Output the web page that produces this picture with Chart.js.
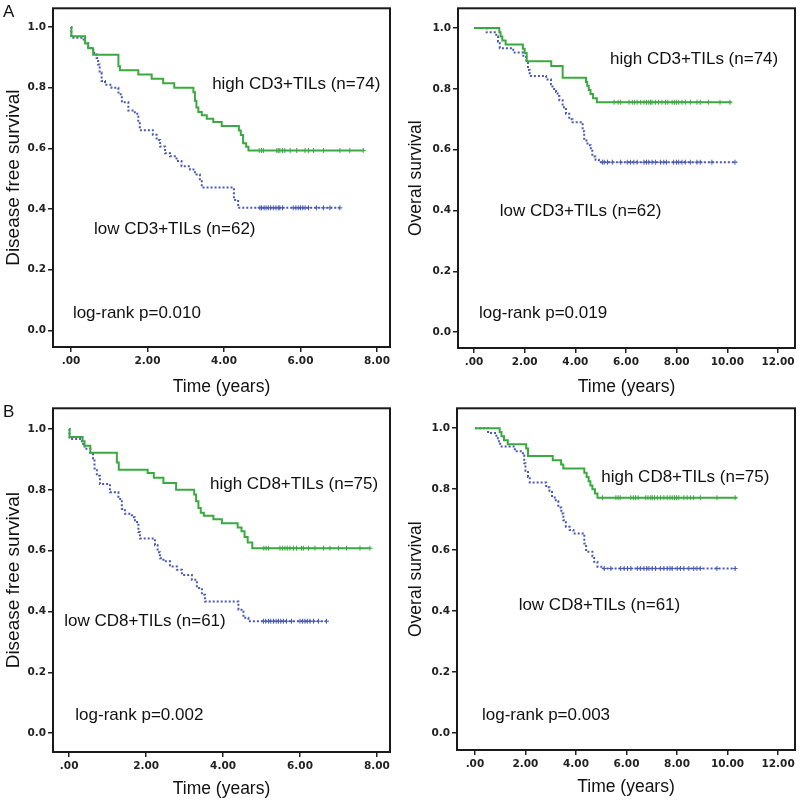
<!DOCTYPE html>
<html>
<head>
<meta charset="utf-8">
<script src="https://cdn.jsdelivr.net/npm/chart.js@4.4.0/dist/chart.umd.min.js"></script>
<style>
  body { margin: 0; background: #fff; width: 800px; height: 805px; position: relative; overflow: hidden; }
  canvas { position: absolute; }
</style>
</head>
<body>
<canvas id="pA1" width="400" height="400" style="left:0;top:0"></canvas>
<canvas id="pA2" width="400" height="400" style="left:400px;top:0"></canvas>
<canvas id="pB1" width="400" height="405" style="left:0;top:400px"></canvas>
<canvas id="pB2" width="400" height="405" style="left:400px;top:400px"></canvas>
<script>
// ---- axis ticks ----
const xTicksShort = [0, 2, 4, 6, 8];
const xLabelsShort = ['.00', '2.00', '4.00', '6.00', '8.00'];
const xTicksLong = [0, 2, 4, 6, 8, 10, 12];
const xLabelsLong = ['.00', '2.00', '4.00', '6.00', '8.00', '10.00', '12.00'];
const yTicks = [0, 0.2, 0.4, 0.6, 0.8, 1.0];
const yLabels = ['0.0', '0.2', '0.4', '0.6', '0.8', '1.0'];

// ---- A: CD3, disease free survival ----
const a1HighT = [0, 0.01, 0.37, 0.45, 0.58, 1.24, 1.28, 1.76, 2.11, 2.41, 2.7, 3.2, 3.24, 3.28, 3.33, 3.42, 3.55, 3.72, 3.94, 4.39, 4.44, 4.5, 4.58, 4.64];
const a1HighS = [1, 0.97, 0.946, 0.93, 0.909, 0.871, 0.858, 0.844, 0.83, 0.815, 0.80, 0.785, 0.757, 0.735, 0.72, 0.709, 0.698, 0.687, 0.674, 0.659, 0.644, 0.617, 0.605, 0.593];
const a1HighCens = [4.92, 4.98, 5.03, 5.38, 5.42, 5.46, 5.53, 5.59, 5.73, 5.90, 6.12, 6.21, 6.34, 6.60, 7.03, 7.29, 7.64];
const a1HighEnd = 7.66;
const a1LowT = [0, 0.01, 0.33, 0.37, 0.45, 0.58, 0.67, 0.71, 0.75, 0.8, 0.89, 1.06, 1.24, 1.3, 1.33, 1.5, 1.67, 1.76, 1.8, 2.14, 2.24, 2.33, 2.46, 2.59, 2.76, 2.89, 3.11, 3.24, 3.37, 3.42, 4.26, 4.37];
const a1LowS = [1, 0.965, 0.955, 0.947, 0.931, 0.915, 0.898, 0.877, 0.85, 0.822, 0.81, 0.80, 0.784, 0.774, 0.752, 0.725, 0.714, 0.687, 0.66, 0.645, 0.628, 0.606, 0.584, 0.574, 0.558, 0.541, 0.53, 0.514, 0.498, 0.471, 0.43, 0.404];
const a1LowCens = [4.94, 4.98, 5.05, 5.10, 5.16, 5.22, 5.29, 5.36, 5.42, 5.46, 5.53, 5.81, 5.88, 5.94, 6.0, 6.06, 6.12, 6.21, 6.42, 6.60, 6.77, 7.03];
const a1LowEnd = 7.03;

// ---- A: CD3, overall survival ----
const a2HighT = [0, 1.0, 1.05, 1.12, 1.25, 1.93, 2.0, 2.08, 3.05, 3.5, 4.42, 4.47, 4.53, 4.6, 4.7, 4.85];
const a2HighS = [1, 0.986, 0.972, 0.959, 0.946, 0.932, 0.918, 0.891, 0.875, 0.837, 0.823, 0.81, 0.796, 0.783, 0.769, 0.756];
const a2HighCens = [5.53, 5.69, 5.79, 6.12, 6.25, 6.34, 6.44, 6.58, 6.71, 6.81, 6.90, 6.97, 7.03, 7.16, 7.29, 7.42, 7.56, 7.65, 7.82, 7.91, 7.99, 8.08, 8.21, 8.34, 8.54, 8.8, 8.93, 9.25, 9.71, 10.1];
const a2HighEnd = 10.17;
const a2LowT = [0, 0.5, 0.88, 0.95, 1.02, 1.55, 1.95, 2.07, 2.13, 2.2, 2.85, 3.04, 3.1, 3.24, 3.3, 3.37, 3.5, 3.63, 3.76, 3.89, 4.29, 4.35, 4.48, 4.61, 4.67, 4.8, 4.93];
const a2LowS = [1, 0.986, 0.972, 0.955, 0.934, 0.92, 0.905, 0.886, 0.862, 0.842, 0.831, 0.815, 0.80, 0.79, 0.777, 0.763, 0.74, 0.718, 0.70, 0.69, 0.661, 0.63, 0.615, 0.60, 0.578, 0.567, 0.559];
const a2LowCens = [5.07, 5.14, 5.27, 5.46, 5.79, 6.05, 6.18, 6.31, 6.44, 6.71, 6.81, 6.9, 7.03, 7.16, 7.36, 7.49, 7.6, 7.88, 7.99, 8.08, 8.21, 8.34, 8.54, 8.8, 8.93, 9.39, 10.3];
const a2LowEnd = 10.36;

// ---- B: CD8, disease free survival ----
const b1HighT = [0, 0.01, 0.35, 0.4, 0.55, 1.24, 1.29, 2.04, 2.2, 2.45, 2.78, 3.25, 3.3, 3.36, 3.42, 3.5, 3.75, 3.97, 4.38, 4.48, 4.56, 4.64, 4.76];
const b1HighS = [1, 0.974, 0.96, 0.945, 0.922, 0.89, 0.866, 0.855, 0.84, 0.822, 0.80, 0.785, 0.762, 0.74, 0.725, 0.715, 0.703, 0.69, 0.676, 0.664, 0.645, 0.627, 0.608];
const b1HighCens = [5.06, 5.12, 5.18, 5.48, 5.55, 5.61, 5.67, 5.74, 5.83, 5.91, 6.04, 6.09, 6.22, 6.39, 6.61, 6.78, 7.0, 7.21, 7.56, 7.82];
const b1HighEnd = 7.82;
const b1LowT = [0, 0.01, 0.33, 0.4, 0.55, 0.62, 0.66, 0.72, 0.8, 1.06, 1.28, 1.37, 1.45, 1.63, 1.71, 1.8, 1.84, 2.23, 2.3, 2.36, 2.45, 2.62, 2.8, 2.93, 3.19, 3.32, 3.45, 3.53, 4.4, 4.53, 4.66];
const b1LowS = [1, 0.967, 0.951, 0.935, 0.918, 0.9, 0.87, 0.846, 0.819, 0.792, 0.77, 0.737, 0.721, 0.71, 0.694, 0.661, 0.64, 0.618, 0.595, 0.575, 0.565, 0.548, 0.537, 0.52, 0.504, 0.477, 0.455, 0.433, 0.406, 0.379, 0.368];
const b1LowCens = [5.05, 5.11, 5.18, 5.24, 5.31, 5.38, 5.44, 5.5, 5.57, 5.65, 5.78, 6.0, 6.07, 6.13, 6.19, 6.26, 6.35, 6.48, 6.69];
const b1LowEnd = 6.74;

// ---- B: CD8, overall survival ----
const b2HighT = [0, 0.98, 1.05, 1.15, 1.3, 2.03, 2.1, 3.08, 3.41, 3.5, 4.33, 4.42, 4.5, 4.57, 4.65, 4.75, 4.85];
const b2HighS = [1, 0.987, 0.973, 0.96, 0.947, 0.933, 0.909, 0.895, 0.881, 0.868, 0.854, 0.84, 0.826, 0.812, 0.80, 0.786, 0.772];
const b2HighCens = [5.05, 5.58, 5.67, 5.75, 6.17, 6.27, 6.36, 6.46, 6.76, 6.85, 6.96, 7.02, 7.11, 7.22, 7.35, 7.48, 7.61, 7.72, 7.81, 7.9, 7.98, 8.07, 8.27, 8.4, 8.53, 8.66, 8.92, 9.58, 10.3];
const b2HighEnd = 10.37;
const b2LowT = [0, 0.52, 0.85, 0.95, 1.0, 1.58, 1.9, 1.95, 2.0, 2.1, 2.17, 2.82, 2.95, 3.05, 3.2, 3.3, 3.42, 3.5, 3.6, 3.75, 3.9, 4.33, 4.4, 4.65, 4.72, 4.85, 5.0];
const b2LowS = [1, 0.984, 0.967, 0.957, 0.94, 0.924, 0.91, 0.885, 0.86, 0.84, 0.822, 0.806, 0.795, 0.773, 0.76, 0.74, 0.72, 0.698, 0.677, 0.666, 0.655, 0.622, 0.595, 0.58, 0.562, 0.546, 0.54];
const b2LowCens = [5.12, 5.38, 5.77, 5.91, 6.04, 6.17, 6.43, 6.56, 6.69, 6.8, 6.89, 7.02, 7.15, 7.35, 7.48, 7.61, 7.72, 7.81, 8.01, 8.14, 8.27, 8.47, 8.66, 8.79, 8.92, 9.58, 10.3];
const b2LowEnd = 10.33;

const GREEN = '#3aaa40';
const BLUE = '#4a5ab2';
const tickFont = { family: '"DejaVu Sans", Verdana, sans-serif', size: 10.5, weight: 'bold' };
const textFamily = '"Liberation Sans", Arial, sans-serif';

function survAt(T, S, c){
  let v = S[0];
  for (let i = 0; i < T.length; i++) if (T[i] <= c) v = S[i];
  return v;
}

function stepSet(T, S, end, color, dash){
  const pts = T.map((t, i) => ({ x: t, y: S[i] }));
  pts.push({ x: end, y: S[S.length - 1] });
  return { data: pts, stepped: 'before', borderColor: color, borderWidth: 2, borderDash: dash, pointRadius: 0, fill: false };
}

function markSet(T, S, cens, color){
  return {
    data: cens.map(c => ({ x: c, y: survAt(T, S, c) })),
    showLine: false, pointStyle: 'cross', pointRadius: 2.5, pointBorderWidth: 1,
    pointBorderColor: color, borderColor: color, backgroundColor: color
  };
}

// frame, in-plot notes, panel letter
const decor = {
  id: 'decor',
  afterDraw(chart, args, o){
    const { ctx, chartArea: a, scales: { x, y } } = chart;
    ctx.save();
    ctx.strokeStyle = '#1a1a1a';
    ctx.lineWidth = 2;
    ctx.strokeRect(a.left, a.top, a.right - a.left, a.bottom - a.top);
    ctx.fillStyle = '#111';
    ctx.font = '17px ' + textFamily;
    ctx.textBaseline = 'middle';
    ctx.textAlign = 'left';
    o.notes.forEach(n => ctx.fillText(n.text, x.getPixelForValue(n.x), y.getPixelForValue(n.y)));
    if (o.letter){
      ctx.font = '17px ' + textFamily;
      ctx.textBaseline = 'alphabetic';
      ctx.fillText(o.letter, 3, 17);
    }
    ctx.restore();
  }
};

function panel(id, p){
  return new Chart(document.getElementById(id), {
    type: 'line',
    data: { datasets: [
      stepSet(p.highT, p.highS, p.highEnd, GREEN, []),
      markSet(p.highT, p.highS, p.highCens, GREEN),
      stepSet(p.lowT, p.lowS, p.lowEnd, BLUE, [2, 2]),
      markSet(p.lowT, p.lowS, p.lowCens, BLUE)
    ]},
    options: {
      responsive: false, animation: false, devicePixelRatio: 1,
      layout: { padding: { left: 0, top: p.top, right: p.right, bottom: 0 } },
      plugins: { legend: { display: false }, tooltip: { enabled: false }, decor: { notes: p.notes, letter: p.letter } },
      scales: {
        x: {
          type: 'linear', min: p.xMin, max: p.xMax,
          afterBuildTicks: ax => { ax.ticks = p.xTicks.map(v => ({ value: v })); },
          ticks: { callback: (v, i) => p.xLabels[i], font: tickFont, color: '#222', padding: 3, autoSkip: false, maxRotation: 0 },
          grid: { drawOnChartArea: false, tickLength: 5, tickColor: '#222', lineWidth: 1.5 },
          border: { display: false },
          title: { display: true, text: 'Time (years)', font: { family: textFamily, size: 17.5 }, color: '#111', padding: { top: 0, bottom: p.xTitlePad } },
          afterFit: ax => { ax.height = p.xHeight; }
        },
        y: {
          type: 'linear', min: p.yMin, max: p.yMax,
          afterBuildTicks: ax => { ax.ticks = yTicks.map(v => ({ value: v })); },
          ticks: { callback: (v, i) => yLabels[i], font: tickFont, color: '#222', padding: 2 },
          grid: { drawOnChartArea: false, tickLength: 5, tickColor: '#222', lineWidth: 1.5 },
          border: { display: false },
          title: { display: true, text: p.yTitle, font: { family: textFamily, size: p.yTitleSize }, color: '#111', padding: { top: p.yTitlePad, bottom: 0 } },
          afterFit: ax => { ax.width = p.yWidth; }
        }
      }
    },
    plugins: [decor]
  });
}

panel('pA1', {
  highT: a1HighT, highS: a1HighS, highCens: a1HighCens, highEnd: a1HighEnd,
  lowT: a1LowT, lowS: a1LowS, lowCens: a1LowCens, lowEnd: a1LowEnd,
  xTicks: xTicksShort, xLabels: xLabelsShort, xMin: -0.47, xMax: 8.34, yMin: -0.055, yMax: 1.062,
  top: 3, right: 10, yWidth: 53, xHeight: 53, xTitlePad: 2,
  yTitle: 'Disease free survival', yTitleSize: 19, yTitlePad: 2, letter: 'A',
  notes: [
    { text: 'high CD3+TILs (n=74)', x: 3.69, y: 0.81 },
    { text: 'low CD3+TILs (n=62)', x: 0.60, y: 0.334 },
    { text: 'log-rank p=0.010', x: 0.05, y: 0.055 }
  ]
});

panel('pA2', {
  highT: a2HighT, highS: a2HighS, highCens: a2HighCens, highEnd: a2HighEnd,
  lowT: a2LowT, lowS: a2LowS, lowCens: a2LowCens, lowEnd: a2LowEnd,
  xTicks: xTicksLong, xLabels: xLabelsLong, xMin: -0.63, xMax: 12.67, yMin: -0.052, yMax: 1.065,
  top: 3, right: 3, yWidth: 58, xHeight: 52, xTitlePad: 2,
  yTitle: 'Overal survival', yTitleSize: 17.5, yTitlePad: 5.5, letter: '',
  notes: [
    { text: 'high CD3+TILs (n=74)', x: 5.37, y: 0.896 },
    { text: 'low CD3+TILs (n=62)', x: 1.02, y: 0.398 },
    { text: 'log-rank p=0.019', x: 0.2, y: 0.061 }
  ]
});

panel('pB1', {
  highT: b1HighT, highS: b1HighS, highCens: b1HighCens, highEnd: b1HighEnd,
  lowT: b1LowT, lowS: b1LowS, lowCens: b1LowCens, lowEnd: b1LowEnd,
  xTicks: xTicksShort, xLabels: xLabelsShort, xMin: -0.42, xMax: 8.34, yMin: -0.062, yMax: 1.068,
  top: 5, right: 10, yWidth: 53, xHeight: 53, xTitlePad: 5,
  yTitle: 'Disease free survival', yTitleSize: 19, yTitlePad: 2.5, letter: 'B',
  notes: [
    { text: 'high CD8+TILs (n=75)', x: 3.66, y: 0.818 },
    { text: 'low CD8+TILs (n=61)', x: -0.13, y: 0.368 },
    { text: 'log-rank p=0.002', x: 0.16, y: 0.059 }
  ]
});

panel('pB2', {
  highT: b2HighT, highS: b2HighS, highCens: b2HighCens, highEnd: b2HighEnd,
  lowT: b2LowT, lowS: b2LowS, lowCens: b2LowCens, lowEnd: b2LowEnd,
  xTicks: xTicksLong, xLabels: xLabelsLong, xMin: -0.71, xMax: 12.67, yMin: -0.055, yMax: 1.065,
  top: 5, right: 3, yWidth: 57, xHeight: 55, xTitlePad: 7,
  yTitle: 'Overal survival', yTitleSize: 17.5, yTitlePad: 5.5, letter: '',
  notes: [
    { text: 'high CD8+TILs (n=75)', x: 5.0, y: 0.838 },
    { text: 'low CD8+TILs (n=61)', x: 1.73, y: 0.419 },
    { text: 'log-rank p=0.003', x: 0.28, y: 0.06 }
  ]
});
</script>
</body>
</html>
